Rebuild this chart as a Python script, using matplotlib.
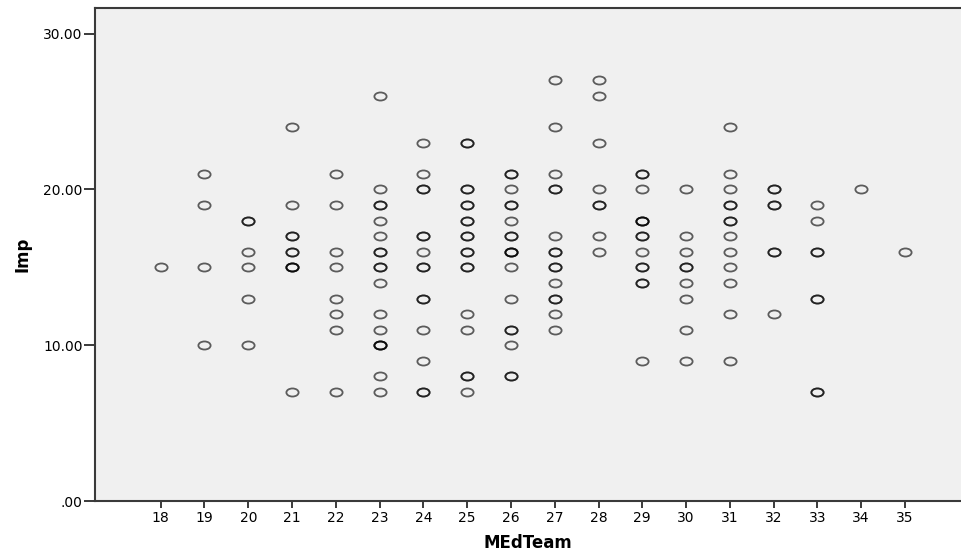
import matplotlib
matplotlib.use("Agg")
import matplotlib.pyplot as plt
from matplotlib.path import Path
from matplotlib.markers import MarkerStyle
from matplotlib.transforms import Affine2D

# Imp scores for each MEdTeam value (repeated values = overlapping cases)
imp_18 = [15]
imp_19 = [21, 19, 15, 10]
imp_20 = [18, 18, 16, 15, 13, 10]
imp_21 = [24, 19, 17, 17, 16, 16, 15, 15, 15, 7]
imp_22 = [21, 19, 16, 15, 13, 12, 11, 7]
imp_23 = [26, 20, 19, 19, 18, 17, 16, 16, 15, 15, 14, 12, 11, 10, 10, 10, 8, 7]
imp_24 = [23, 21, 20, 20, 17, 17, 16, 15, 15, 13, 13, 11, 9, 7, 7]
imp_25 = [23, 23, 20, 20, 19, 19, 18, 18, 17, 17, 16, 16, 15, 15, 12, 11, 8, 8, 7]
imp_26 = [21, 21, 20, 19, 19, 18, 17, 17, 16, 16, 16, 15, 13, 11, 11, 10, 8, 8]
imp_27 = [27, 24, 21, 20, 20, 17, 16, 16, 15, 15, 14, 13, 13, 12, 11]
imp_28 = [27, 26, 23, 20, 19, 19, 17, 16]
imp_29 = [21, 21, 20, 18, 18, 18, 17, 17, 16, 15, 15, 14, 14, 9]
imp_30 = [20, 17, 16, 15, 15, 14, 13, 11, 9]
imp_31 = [24, 21, 20, 19, 19, 18, 18, 17, 16, 15, 14, 12, 9]
imp_32 = [20, 20, 19, 19, 16, 16, 12]
imp_33 = [19, 18, 16, 16, 13, 13, 7, 7]
imp_34 = [20]
imp_35 = [16]

med_team = list(range(18, 36))
imp_by_team = [imp_18, imp_19, imp_20, imp_21, imp_22, imp_23, imp_24, imp_25, imp_26,
               imp_27, imp_28, imp_29, imp_30, imp_31, imp_32, imp_33, imp_34, imp_35]

y_ticks = [0, 10, 20, 30]
y_tick_labels = [".00", "10.00", "20.00", "30.00"]

xs, ys = [], []
for team, vals in zip(med_team, imp_by_team):
    for v in vals:
        xs.append(team)
        ys.append(v)

# flattened open circle marker
ellipse = Path.unit_circle().transformed(Affine2D().scale(1.0, 0.66))
marker = MarkerStyle(ellipse)

plt.rcParams['font.family'] = ['DejaVu Sans']

fig = plt.figure(figsize=(9.61, 5.57), dpi=100)
ax = fig.add_axes([0.0989, 0.1005, 0.9011, 0.8851])
ax.set_facecolor('#f0f0f0')

ax.plot(xs, ys, linestyle='none', marker=marker, markersize=8.8,
        markerfacecolor='none', markeredgecolor=(0, 0, 0, 0.62), markeredgewidth=1.3)

ax.set_xlim(16.5, 36.28)
ax.set_ylim(0, 31.65)
ax.set_xticks(med_team)
ax.set_xticklabels([str(t) for t in med_team])
ax.set_yticks(y_ticks)
ax.set_yticklabels(y_tick_labels)

for side in ['left', 'top', 'bottom']:
    ax.spines[side].set_color('#3a3a3a')
    ax.spines[side].set_linewidth(1.5)
ax.spines['right'].set_visible(False)

ax.tick_params(axis='y', length=8, width=1.4, color='#3a3a3a', labelsize=10, pad=1)
ax.tick_params(axis='x', length=5, width=1.4, color='#3a3a3a', labelsize=10, pad=2)

ax.set_xlabel('MEdTeam', fontsize=12, fontweight='bold', labelpad=7)
ax.set_ylabel('Imp', fontsize=12, fontweight='bold', labelpad=8)

fig.savefig('out.png', dpi=100)
